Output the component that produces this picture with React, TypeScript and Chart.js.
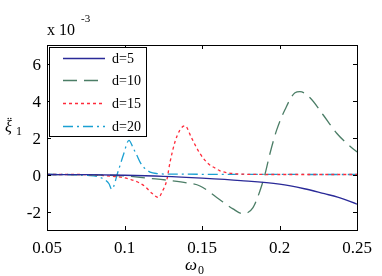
import { useEffect, useRef } from "react";
import { Chart, registerables } from "chart.js";

Chart.register(...registerables);

const xTicks = [0.05, 0.1, 0.15, 0.2, 0.25];
const xTickLabels = ["0.05", "0.1", "0.15", "0.2", "0.25"];
const yTicks = [-2, 0, 2, 4, 6];
const yTickLabels = ["-2", "0", "2", "4", "6"];
const seriesLabels = ["d=5", "d=10", "d=15", "d=20"];

const d5X = [0.05, 0.075, 0.1, 0.125, 0.15, 0.175, 0.2, 0.216, 0.229, 0.2375, 0.25];
const d5Y = [0, -0.01, -0.04, -0.1, -0.2, -0.33, -0.52, -0.77, -1.04, -1.22, -1.6];

const d10X = [0.05, 0.07, 0.09, 0.1, 0.11, 0.12, 0.13, 0.14, 0.1487, 0.1595, 0.17, 0.1765, 0.1829, 0.1874, 0.1906, 0.1939, 0.1982, 0.2035, 0.21, 0.2132, 0.2197, 0.2281, 0.2369, 0.2434, 0.25];
const d10Y = [0, -0.01, -0.04, -0.08, -0.15, -0.24, -0.33, -0.45, -0.62, -1.24, -1.86, -2.12, -1.79, -0.88, 0, 1.15, 2.41, 3.5, 4.42, 4.48, 4.15, 3.23, 2.23, 1.68, 1.22];

const d15X = [0.05, 0.07, 0.085, 0.0926, 0.1, 0.105, 0.1095, 0.1132, 0.1175, 0.1218, 0.1245, 0.1272, 0.1294, 0.1326, 0.1358, 0.139, 0.1434, 0.1487, 0.1541, 0.1584, 0.1616, 0.166, 0.17, 0.18, 0.2, 0.25];
const d15Y = [0, 0, -0.05, -0.1, -0.18, -0.3, -0.45, -0.65, -1.0, -1.24, -0.9, -0.33, 0.67, 1.77, 2.41, 2.63, 1.95, 1.13, 0.58, 0.35, 0.2, 0.1, 0.05, 0.01, 0, 0];

const d20X = [0.05, 0.062, 0.07, 0.076, 0.0821, 0.0874, 0.09, 0.0917, 0.096, 0.0992, 0.1029, 0.1055, 0.1079, 0.1105, 0.1135, 0.1165, 0.121, 0.13, 0.25];
const d20Y = [0, 0, -0.02, -0.05, -0.1, -0.29, -0.5, -0.8, 0.2, 1.04, 1.85, 1.45, 1.05, 0.6, 0.3, 0.13, 0.05, 0.02, 0];

const colors = ["#2a2a98", "#4b7d66", "#ff2a3a", "#1aa0d2"];
const dashes: number[][] = [[], [14, 7], [3, 3], [10, 4, 2, 4]];

const SERIF = "'Liberation Serif'";

function pts(xs: number[], ys: number[]) {
  return xs.map((x, i) => ({ x, y: ys[i] }));
}

const decorPlugin = {
  id: "decor",
  afterDraw(chart: any) {
    const ctx = chart.ctx as CanvasRenderingContext2D;
    const { left, right, top, bottom } = chart.chartArea;
    const xs = chart.scales.x;
    const ys = chart.scales.y;
    ctx.save();
    ctx.strokeStyle = "#000";
    ctx.lineWidth = 1;
    ctx.setLineDash([]);
    ctx.strokeRect(Math.round(left) + 0.5, Math.round(top) + 0.5, Math.round(right - left), Math.round(bottom - top));
    const tl = 4;
    ctx.beginPath();
    xTicks.forEach((v) => {
      const px = Math.round(xs.getPixelForValue(v)) + 0.5;
      ctx.moveTo(px, bottom);
      ctx.lineTo(px, bottom - tl);
      ctx.moveTo(px, top);
      ctx.lineTo(px, top + tl);
    });
    yTicks.forEach((v) => {
      const py = Math.round(ys.getPixelForValue(v)) + 0.5;
      ctx.moveTo(left, py);
      ctx.lineTo(left + tl, py);
      ctx.moveTo(right, py);
      ctx.lineTo(right - tl, py);
    });
    ctx.stroke();

    // tick labels
    ctx.fillStyle = "#000";
    ctx.font = `17px ${SERIF}`;
    ctx.textBaseline = "alphabetic";
    ctx.textAlign = "center";
    xTicks.forEach((v, i) => {
      ctx.fillText(xTickLabels[i], xs.getPixelForValue(v), 253);
    });
    ctx.textAlign = "right";
    yTicks.forEach((v, i) => {
      ctx.fillText(yTickLabels[i], 41, ys.getPixelForValue(v) + 6);
    });

    // legend
    const lx = 49, ly = 47, lw = 97, lh = 89;
    ctx.fillStyle = "#fff";
    ctx.fillRect(lx, ly, lw, lh);
    ctx.strokeStyle = "#000";
    ctx.strokeRect(lx + 0.5, ly + 0.5, lw, lh);
    const rows = [58, 80, 103, 126];
    chart.data.datasets.forEach((ds: any, i: number) => {
      const y = rows[i] + 0.5;
      ctx.strokeStyle = ds.borderColor;
      ctx.lineWidth = 1.3;
      ctx.setLineDash(ds.borderDash || []);
      ctx.beginPath();
      ctx.moveTo(63, y);
      ctx.lineTo(105, y);
      ctx.stroke();
      ctx.setLineDash([]);
      ctx.fillStyle = "#000";
      ctx.font = `14px ${SERIF}`;
      ctx.textBaseline = "alphabetic";
      ctx.textAlign = "left";
      ctx.fillText(ds.label, 112, rows[i] + 5);
    });

    // exponent
    ctx.fillStyle = "#000";
    ctx.textAlign = "left";
    ctx.textBaseline = "alphabetic";
    ctx.font = `16px ${SERIF}`;
    ctx.fillText("x 10", 47, 35);
    ctx.font = `11px ${SERIF}`;
    ctx.fillText("-3", 81, 22);

    // y title
    ctx.font = `italic 16px ${SERIF}`;
    ctx.fillText("ξ", 5, 132);
    ctx.font = `15px ${SERIF}`;
    ctx.fillText("¨", 7, 127);
    ctx.font = `12px ${SERIF}`;
    ctx.fillText("1", 16, 135);

    // x title
    ctx.font = `italic 17px ${SERIF}`;
    ctx.fillText("ω", 185, 270);
    ctx.font = `12px ${SERIF}`;
    ctx.fillText("0", 198, 274);
    ctx.restore();
  },
};

export default function App() {
  const ref = useRef<HTMLCanvasElement | null>(null);
  useEffect(() => {
    document.body.style.margin = "0";
    const series = [pts(d5X, d5Y), pts(d10X, d10Y), pts(d15X, d15Y), pts(d20X, d20Y)];
    const chart = new Chart(ref.current as HTMLCanvasElement, {
      type: "line",
      data: {
        datasets: series.map((data, i) => ({
          label: seriesLabels[i],
          data,
          borderColor: colors[i],
          backgroundColor: colors[i],
          borderWidth: 1.3,
          borderDash: dashes[i],
          pointRadius: 0,
          fill: false,
          cubicInterpolationMode: "monotone" as const,
        })),
      },
      options: {
        animation: false,
        responsive: false,
        events: [],
        layout: { padding: { left: 0, right: 25, top: 45, bottom: 0 } },
        plugins: { legend: { display: false }, tooltip: { enabled: false } },
        scales: {
          x: {
            type: "linear",
            min: 0.05,
            max: 0.25,
            grid: { display: false },
            border: { display: false },
            ticks: { display: false },
            afterFit: (s: any) => {
              s.height = 46;
            },
          },
          y: {
            type: "linear",
            min: -3,
            max: 7,
            grid: { display: false },
            border: { display: false },
            ticks: { display: false },
            afterFit: (s: any) => {
              s.width = 47;
            },
          },
        },
      },
      plugins: [decorPlugin],
    });
    (document as any).fonts?.ready?.then(() => chart.update());
    return () => chart.destroy();
  }, []);
  return (
    <div>
      <span style={{ fontFamily: "Liberation Serif", position: "absolute", visibility: "hidden" }}>0</span>
      <canvas ref={ref} width={382} height={276} style={{ display: "block" }} />
    </div>
  );
}
